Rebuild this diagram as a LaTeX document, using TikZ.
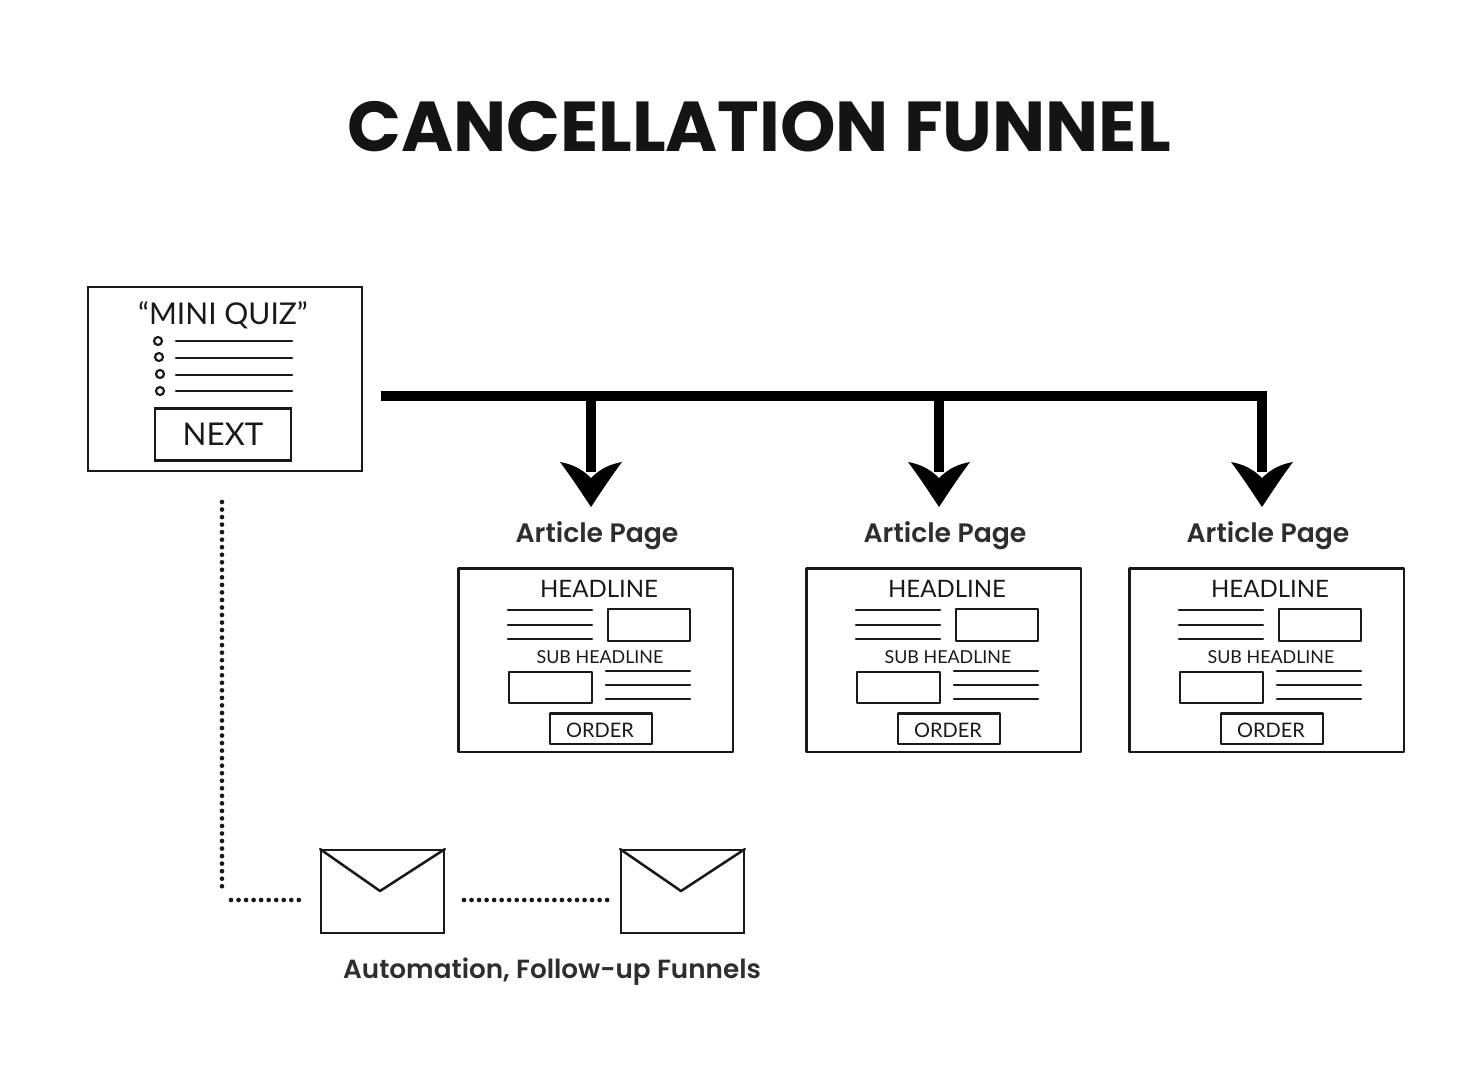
\documentclass[tikz,border=0pt]{standalone}
\usepackage{fontspec}
\setmainfont{Lato}
\newfontfamily\boldlabel{Poppins}[UprightFont=* SemiBold]
\newfontfamily\titlefont{Poppins}[UprightFont=* Bold]
\usetikzlibrary{calc}
\newcommand{\fs}[1]{\fontsize{#1}{#1}\selectfont}
\tikzset{
  ink/.style={draw=black!90,line width=1.9pt,line cap=round,line join=round},
  thinink/.style={draw=black!90,line width=1.9pt,line cap=round,line join=round},
  trunk/.style={draw=black,line width=7.5pt},
  branch/.style={draw=black,line width=7.5pt},
  barb/.style={fill=black,draw=none},
  dots/.style={draw=black!90,line width=3.5pt,line cap=round,dash pattern=on 0pt off 5.65pt},
  hand/.style={inner sep=0pt,text=black!90},
  label/.style={inner sep=0pt,text=black!82},
  bulletdot/.style={circle,draw=black!90,line width=1.6pt,minimum size=6pt,inner sep=0pt},
}
\newcommand{\articleset}[3]{%
\begin{scope}[xshift=#2*0.75pt]
  \coordinate (#1top) at (#3,396);
  \coordinate (#1neck) at (#3,472);
  \draw[branch] (#1top) -- (#1neck);
  \node[barb,minimum size=0pt,inner sep=0pt] (#1tip) at (#3,507) {};
  \fill[black] (#1tip.center) .. controls (#3-10,492) and (#3-19,478) .. ($(#1tip.center)+(-31,-45)$)
     .. controls (#3-20,464) and (#3-10,468) .. (#3,478)
     .. controls (#3+10,468) and (#3+20,464) .. ($(#1tip.center)+(31,-45)$)
     .. controls (#3+19,478) and (#3+10,492) .. (#1tip.center) -- cycle;
\end{scope}
\begin{scope}[shift={(#2,0)}]
  \node[label,font=\boldlabel\fs{20}] (#1label) at (597,536) {Article Page};
  \draw[ink] (458.5,568.5) rectangle (733,752);
  \coordinate (#1frame) at (595,660);
  \node[hand,font=\fs{18}] (#1head) at (599,589) {HEADLINE};
  \draw[thinink] (508,610) -- (592,610);
  \draw[thinink] (508,625) -- (592,625);
  \draw[thinink] (508,639) -- (592,639);
  \draw[ink] (608,609) rectangle (690,641);
  \node[hand,font=\fs{13.4}] (#1sub) at (600,657) {SUB HEADLINE};
  \draw[ink] (509,672) rectangle (592,703);
  \draw[thinink] (606,671) -- (690,671);
  \draw[thinink] (606,685) -- (690,685);
  \draw[thinink] (606,699) -- (690,699);
  \draw[ink] (550,713.5) rectangle (652,744);
  \node[hand,font=\fs{15}] (#1order) at (600,730) {ORDER};
\end{scope}}
\begin{document}
\begin{tikzpicture}[x=0.75pt,y=-0.75pt]
\useasboundingbox (0,0) rectangle (1477,1068);
\node[inner sep=0pt,text=black!92,font=\titlefont\fs{53}] (title) at (759,127) {CANCELLATION FUNNEL};
% quiz page
\node[draw=black!90,line width=1.9pt,minimum width=205.5pt,minimum height=138pt,inner sep=0pt] (quiz) at (225,379) {};
\node[hand,font=\fs{22.5}] (quiztitle) at (223,315) {“MINI QUIZ”};
\node[bulletdot] (b1) at (158,341) {};
\node[bulletdot] (b2) at (159,357) {};
\node[bulletdot] (b3) at (160,374) {};
\node[bulletdot] (b4) at (160,391) {};
\draw[thinink] (176,341) -- (292,341);
\draw[thinink] (176,358) -- (292,358);
\draw[thinink] (176,375) -- (292,375);
\draw[thinink] (176,391) -- (292,391);
\node[draw=black!90,line width=1.9pt,minimum width=102pt,minimum height=39pt,inner sep=0pt,font=\fs{23.5},text=black!90] (next) at (223,434.5) {NEXT};
% trunk and article pages
\coordinate (trunkL) at (381,396);
\coordinate (trunkR) at (1267,396);
\draw[trunk] (trunkL) -- (trunkR);
\articleset{a}{0}{591}
\articleset{b}{348}{591}
\articleset{c}{671}{591}
% mails
\node[draw=black!90,line width=1.6pt,minimum width=92pt,minimum height=62pt,inner sep=0pt] (mailA) at (382.5,891.5) {};
\node[draw=black!90,line width=1.6pt,minimum width=92pt,minimum height=62pt,inner sep=0pt] (mailB) at (682.5,891.5) {};
\coordinate (flapA) at (380,891);
\coordinate (flapB) at (681,891);
\draw[thinink] (mailA.north west) -- (flapA) -- (mailA.north east);
\draw[thinink] (mailB.north west) -- (flapB) -- (mailB.north east);
\coordinate (dotTop) at (222,502);
\coordinate (dotBot) at (222,892);
\coordinate (dotH1) at (231,900);
\coordinate (dotH2) at (301,900);
\coordinate (dotM1) at (464,900);
\coordinate (dotM2) at (610,900);
\draw[dots] (dotTop) -- (dotBot);
\draw[dots] (dotH1) -- (dotH2);
\draw[dots] (dotM1) -- (dotM2);
\node[label,font=\boldlabel\fs{19.7}] (autolabel) at (552,972) {Automation, Follow-up Funnels};
\end{tikzpicture}
\end{document}
